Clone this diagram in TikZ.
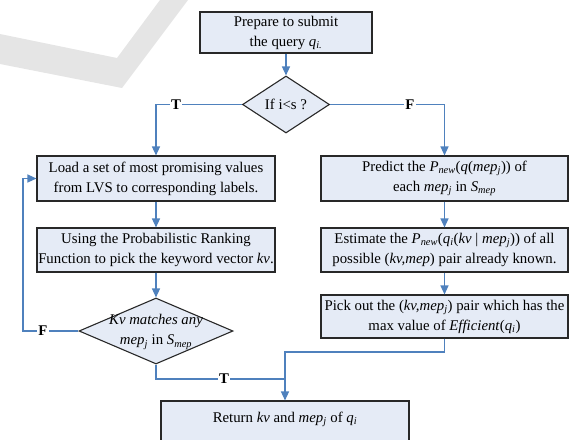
\documentclass[tikz,border=0pt]{standalone}
\usepackage{fontspec}
\setmainfont{Liberation Serif}
\usetikzlibrary{arrows.meta,shapes.geometric}
\definecolor{boxfill}{RGB}{229,235,246}
\definecolor{linkblue}{RGB}{79,129,189}
\definecolor{edgegray}{RGB}{40,40,40}
\definecolor{markgray}{RGB}{229,229,229}
\newcommand{\vv}[1]{\textit{#1}}
\newcommand{\sbv}[1]{\textsubscript{\textit{#1}}}
\begin{document}
\begin{tikzpicture}[x=1pt,y=-1pt,
  txt/.style={font=\fontsize{14.8}{20}\selectfont,align=center,inner sep=0pt},
  stepbox/.style={draw=edgegray,line width=1.1pt,fill=boxfill,inner sep=0pt,align=center,font=\fontsize{14.8}{20}\selectfont},
  decision/.style={diamond,draw=edgegray,line width=1.1pt,fill=boxfill,inner sep=0pt},
  link/.style={draw=linkblue,line width=1.3pt},
  arr/.style={link,-{Triangle[width=8pt,length=9pt]}},
  tf/.style={fill=white,inner sep=1pt,font=\bfseries\fontsize{14.8}{16}\selectfont}]
\clip (0,0) rectangle (570,439);
% watermark
\fill[markgray] (0,34) -- (117,58) -- (160,0) -- (188,0) -- (122,88) -- (0,64) -- cycle;
% nodes
\node[stepbox,minimum width=172pt,minimum height=41pt] (top) at (286,32.5)
  {Prepare to submit\\the query \vv{q}\sbv{i.}};
\node[decision,minimum width=87pt,minimum height=57pt] (d1) at (286,104.5) {};
\node[txt] (d1t) at (d1.center) {If i<s ?};
\node[stepbox,minimum width=238pt,minimum height=45pt] (l1) at (156,178.5)
  {Load a set of most promising values\\from LVS to corresponding labels.};
\node[stepbox,minimum width=238pt,minimum height=44pt] (l2) at (156,250)
  {Using the Probabilistic Ranking\\Function to pick the keyword vector \vv{kv}.};
\node[decision,minimum width=154pt,minimum height=66pt] (d2) at (156,331) {};
\node[txt] (d2t) at (156,332)
  {\vv{Kv matches any}\\\vv{mep}\sbv{j} in \vv{S}\sbv{mep}};
\node[stepbox,minimum width=247pt,minimum height=45pt] (r1) at (444.5,178.5)
  {Predict the \vv{P}\sbv{new}(\vv{q}(\vv{mep}\sbv{j})) of\\each \vv{mep}\sbv{j} in \vv{S}\sbv{mep}};
\node[stepbox,minimum width=247pt,minimum height=44pt] (r2) at (444.5,250)
  {Estimate the \vv{P}\sbv{new}(\vv{q}\sbv{i}(\vv{kv} | \vv{mep}\sbv{j})) of all\\possible (\vv{kv,mep}) pair already known.};
\node[stepbox,minimum width=247pt,minimum height=43pt] (r3) at (444.5,316.5)
  {Pick out the (\vv{kv,mep}\sbv{j}) pair which has the\\max value of \vv{Efficient}(\vv{q}\sbv{i})};
\node[stepbox,minimum width=248pt,minimum height=50pt] (ret) at (285,426) {};
\node[txt] (rett) at (285,419) {Return \vv{kv} and \vv{mep}\sbv{j} of \vv{q}\sbv{i}};
% connectors
\coordinate (fb) at (23,331);
\coordinate (tj) at (285,379);
\coordinate (rj) at (285,352);
\draw[arr] (top.south) -- (d1.north);
\draw[arr] (d1.west) -| (l1.north);
\draw[arr] (d1.east) -| (r1.north);
\draw[arr] (l1.south) -- (l2.north);
\draw[arr] (l2.south) -- (d2.north);
\draw[arr] (r1.south) -- (r2.north);
\draw[arr] (r2.south) -- (r3.north);
\draw[arr] (d2.west) -- (fb) |- (l1.west);
\draw[link] (d2.south) |- (tj);
\draw[arr] (r3.south) |- (rj) -- (ret.north);
% labels
\node[tf] (lt1) at (176,104.5) {T};
\node[tf] (lf1) at (410,104.5) {F};
\node[tf] (lf2) at (43,331) {F};
\node[tf] (lt2) at (224,379) {T};
\end{tikzpicture}
\end{document}
